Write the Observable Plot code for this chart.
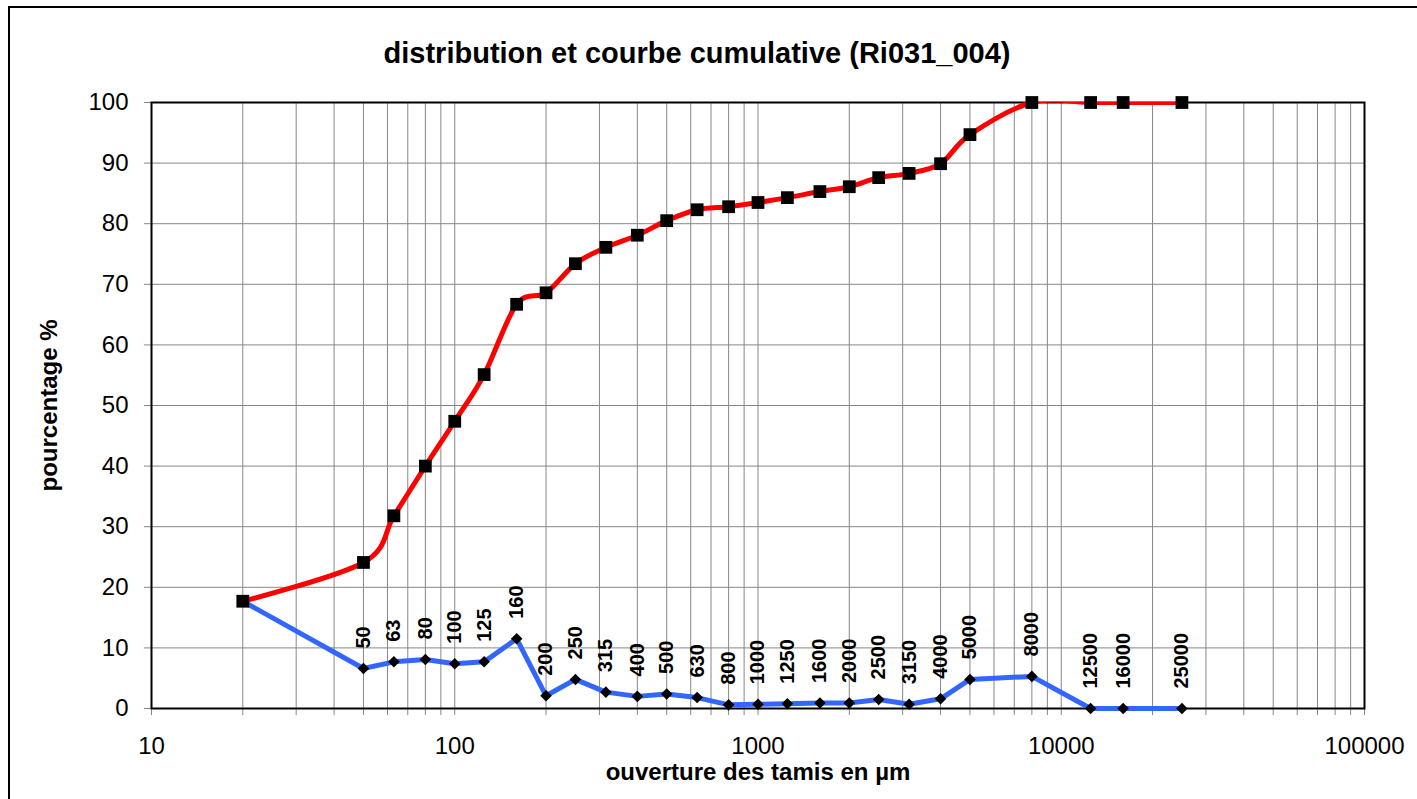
<!DOCTYPE html>
<html>
<head>
<meta charset="utf-8">
<script src="https://cdn.jsdelivr.net/npm/d3@7"></script>
<script src="https://cdn.jsdelivr.net/npm/@observablehq/plot@0.6"></script>
<style>
  html, body { margin: 0; padding: 0; background: #fff; overflow: hidden; }
  #wrap { position: relative; width: 1417px; height: 799px; }
  #border { position: absolute; left: 8px; top: 6px; width: 1420px; height: 810px; border: 2px solid #000; box-sizing: border-box; }
  #chart { position: absolute; left: 0; top: 0; }
</style>
</head>
<body>
<div id="wrap">
  <div id="border"></div>
  <div id="chart"></div>
</div>
<script>
// ---- data ----
const sieves = [20, 50, 63, 80, 100, 125, 160, 200, 250, 315, 400, 500, 630, 800, 1000, 1250, 1600, 2000, 2500, 3150, 4000, 5000, 8000, 12500, 16000, 25000];
const cumulative = [17.7, 24.1, 31.8, 40.0, 47.4, 55.1, 66.7, 68.6, 73.4, 76.1, 78.1, 80.5, 82.3, 82.8, 83.5, 84.3, 85.3, 86.1, 87.6, 88.3, 89.9, 94.7, 100, 100, 100, 100];
const distribution = [17.7, 6.6, 7.7, 8.1, 7.4, 7.7, 11.5, 2.1, 4.8, 2.7, 2.0, 2.4, 1.8, 0.6, 0.7, 0.8, 0.9, 0.9, 1.5, 0.7, 1.6, 4.8, 5.3, 0, 0, 0];
const pointLabels = ["", "50", "63", "80", "100", "125", "160", "200", "250", "315", "400", "500", "630", "800", "1000", "1250", "1600", "2000", "2500", "3150", "4000", "5000", "8000", "12500", "16000", "25000"];
const xMajorTicks = [10, 100, 1000, 10000, 100000];
const yTicks = [0, 10, 20, 30, 40, 50, 60, 70, 80, 90, 100];
const title = "distribution et courbe cumulative (Ri031_004)";
const yTitle = "pourcentage %";
const xTitle = "ouverture des tamis en µm";

const xAllTicks = [10, 100, 1000, 10000].flatMap(d => [1, 2, 3, 4, 5, 6, 7, 8, 9].map(k => d * k)).concat([100000]);
const rows = sieves.map((s, i) => ({s, cum: cumulative[i], dist: distribution[i], label: pointLabels[i]}));

const font = '"Liberation Sans", Arial, sans-serif';
const grid = "#878787";

const chart = Plot.plot({
  width: 1417,
  height: 799,
  marginLeft: 151,
  marginRight: 53,
  marginTop: 102,
  marginBottom: 91,
  style: {fontFamily: font, fontSize: "24px", color: "#000", background: "transparent"},
  x: {type: "log", domain: [10, 100000]},
  y: {domain: [0, 100]},
  marks: [
    Plot.ruleX(xAllTicks, {stroke: grid, strokeWidth: 1}),
    Plot.ruleY(yTicks, {stroke: grid, strokeWidth: 1}),
    Plot.axisX(xAllTicks, {tickFormat: d => xMajorTicks.includes(d) ? String(d) : "", tickSize: 7, tickPadding: 21, stroke: grid, fontSize: 24, label: null}),
    Plot.axisY(yTicks, {tickSize: 7, tickPadding: 16, stroke: grid, fontSize: 24, label: null}),
    Plot.frame({stroke: "#000", strokeWidth: 2}),
    Plot.line(rows, {x: "s", y: "dist", stroke: "#3366ff", strokeWidth: 5}),
    Plot.line(rows, {x: "s", y: "cum", stroke: "#ff0000", strokeWidth: 5, curve: "cardinal", clip: true}),
    Plot.dot(rows, {x: "s", y: "dist", symbol: "diamond2", r: 5.2, fill: "#000", stroke: "none"}),
    Plot.dot(rows, {x: "s", y: "cum", symbol: "square", r: 7.2, fill: "#000", stroke: "none"}),
    Plot.text(rows, {x: "s", y: "dist", text: "label", rotate: -90, textAnchor: "start", dy: -20, fontSize: 20, fontWeight: "bold", fill: "#000"}),
    Plot.text([title], {frameAnchor: "top", text: d => d, textAnchor: "middle", lineAnchor: "bottom", dx: -61, dy: -40, fontSize: 29, fontWeight: "bold", fill: "#000"}),
    Plot.text([xTitle], {frameAnchor: "bottom", text: d => d, textAnchor: "middle", lineAnchor: "bottom", dy: 71, fontSize: 24, fontWeight: "bold", fill: "#000"}),
    Plot.text([yTitle], {frameAnchor: "left", text: d => d, rotate: -90, textAnchor: "middle", lineAnchor: "middle", dx: -102, fontSize: 24, fontWeight: "bold", fill: "#000"})
  ]
});
document.getElementById("chart").appendChild(chart);
</script>
</body>
</html>
